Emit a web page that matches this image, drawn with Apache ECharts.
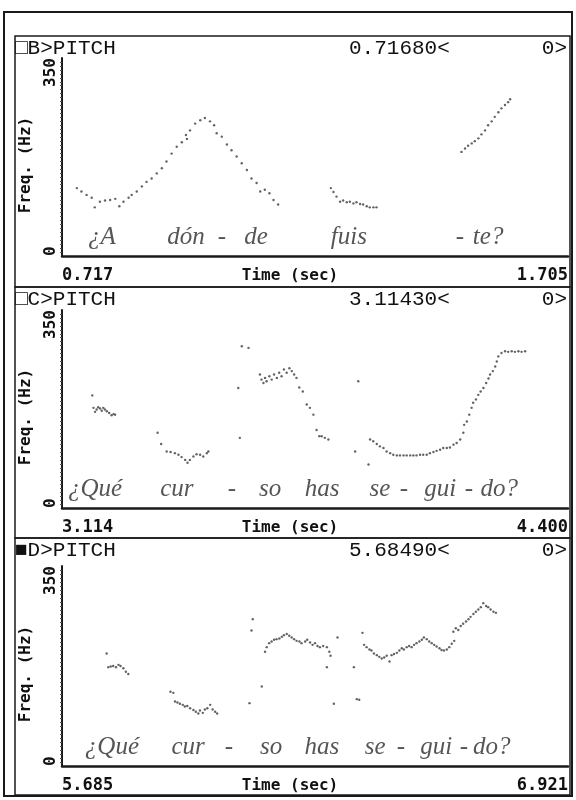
<!DOCTYPE html>
<html>
<head>
<meta charset="utf-8">
<script src="https://cdn.jsdelivr.net/npm/echarts@6/dist/echarts.min.js"></script>
<style>
  html, body { margin: 0; padding: 0; background: #fff; }
  #chart { width: 576px; height: 800px; }
</style>
</head>
<body>
<div id="chart"></div>
<script>
// Pitch tracks (time in s, F0 in Hz) for three utterances
const pitchB = [
  [0.746,120],[0.755,114],[0.765,108],[0.775,103],[0.781,86],[0.791,96],[0.801,98],[0.811,99],
  [0.821,101],[0.829,88],[0.837,96],[0.847,103],[0.853,108],[0.863,114],[0.873,123],[0.882,131],
  [0.892,137],[0.902,146],[0.912,155],[0.921,167],[0.931,181],[0.941,193],[0.951,201],[0.959,214],
  [0.961,207],[0.967,222],[0.977,234],[0.987,240],[0.996,244],[1.006,238],[1.014,231],[1.019,217],
  [1.029,211],[1.039,197],[1.048,187],[1.058,176],[1.068,164],[1.078,152],[1.087,137],[1.097,129],
  [1.104,114],[1.113,117],[1.122,111],[1.130,99],[1.139,91],
  [1.242,120],[1.247,113],[1.253,105],[1.260,96],[1.266,98],[1.273,95],[1.279,96],[1.286,93],
  [1.292,95],[1.299,92],[1.305,91],[1.312,88],[1.318,86],[1.325,86],[1.331,86],
  [1.497,184],[1.504,190],[1.510,195],[1.517,199],[1.523,203],[1.530,208],[1.536,215],[1.543,222],
  [1.549,231],[1.556,238],[1.562,246],[1.569,254],[1.575,261],[1.582,267],[1.588,272],[1.592,277]
];
const pitchC = [
  [3.191,199],[3.194,177],[3.198,170],[3.202,174],[3.206,178],[3.211,176],[3.215,172],[3.219,177],
  [3.223,174],[3.228,171],[3.234,168],[3.240,164],[3.245,166],[3.249,165],
  [3.357,133],[3.366,113],[3.380,100],[3.390,99],[3.401,97],[3.410,94],[3.418,90],[3.427,85],
  [3.433,80],[3.439,85],[3.448,91],[3.456,95],[3.465,94],[3.473,91],[3.482,97],[3.486,100],
  [3.571,286],[3.588,283],[3.562,212],[3.566,124],
  [3.617,236],[3.621,227],[3.626,221],[3.630,230],[3.634,224],[3.641,233],[3.647,227],[3.653,236],
  [3.660,230],[3.666,239],[3.672,233],[3.678,245],[3.685,239],[3.692,247],[3.698,242],[3.704,236],
  [3.710,230],[3.717,213],[3.726,206],[3.736,183],[3.744,177],[3.753,165],[3.761,138],[3.768,127],
  [3.774,127],[3.782,124],[3.791,121],
  [3.867,224],[3.859,100],[3.893,77],
  [3.897,121],[3.905,118],[3.914,113],[3.922,109],[3.931,106],[3.939,100],[3.948,97],[3.956,94],
  [3.965,93],[3.973,93],[3.982,93],[3.990,93],[3.999,93],[4.007,93],[4.015,93],[4.024,94],
  [4.032,94],[4.041,94],[4.049,97],[4.058,99],[4.066,101],[4.075,103],[4.083,106],[4.092,106],
  [4.100,107],[4.109,112],[4.117,115],
  [4.126,121],[4.134,133],[4.136,147],[4.143,153],[4.149,165],[4.155,177],[4.159,186],[4.166,192],
  [4.172,200],[4.178,206],[4.185,212],[4.192,221],[4.198,229],[4.202,236],[4.209,242],[4.215,250],
  [4.219,259],[4.223,268],[4.231,274],[4.240,277],[4.248,276],[4.257,277],[4.265,276],[4.274,277],
  [4.282,276],[4.291,277]
];
const pitchD = [
  [5.794,197],[5.798,173],[5.804,174],[5.810,175],[5.817,173],[5.823,177],[5.828,175],[5.835,171],
  [5.841,165],[5.847,161],
  [5.950,130],[5.957,128],[5.961,113],[5.967,111],[5.973,109],[5.980,107],[5.985,104],[5.991,105],
  [5.998,101],[6.006,98],[6.012,95],[6.018,92],[6.022,97],[6.029,93],[6.034,99],[6.040,101],
  [6.047,107],[6.053,99],[6.059,95],[6.064,92],
  [6.151,257],[6.148,237],[6.173,139],[6.143,110],
  [6.181,200],[6.185,208],[6.191,215],[6.197,218],[6.203,221],[6.209,222],[6.216,223],[6.222,226],
  [6.227,229],[6.234,231],[6.240,228],[6.246,225],[6.252,222],[6.258,219],[6.265,218],[6.270,215],
  [6.279,218],[6.284,221],[6.291,216],[6.297,212],[6.303,215],[6.309,210],[6.315,208],[6.323,210],
  [6.332,208],[6.338,200],[6.341,193],
  [6.358,225],[6.332,173],[6.349,109],[6.398,173],[6.405,117],[6.411,116],[6.419,233],
  [6.423,212],[6.429,208],[6.436,204],[6.441,202],[6.447,197],[6.454,194],[6.460,191],[6.466,188],
  [6.472,190],[6.478,193],[6.485,183],[6.490,194],[6.496,196],[6.503,198],[6.509,202],[6.515,206],
  [6.520,204],[6.527,208],[6.533,210],[6.539,208],[6.545,212],[6.551,215],[6.558,218],[6.564,221],
  [6.569,225],[6.576,222],[6.582,218],[6.588,215],[6.594,212],[6.600,209],[6.607,206],[6.612,203],
  [6.618,202],[6.625,204],[6.631,208],[6.637,214],[6.643,219],
  [6.641,235],[6.647,241],[6.653,238],[6.659,245],[6.665,249],[6.672,253],[6.678,257],[6.683,261],
  [6.690,266],[6.696,270],[6.702,274],[6.708,278],[6.714,285],[6.721,280],[6.726,278],[6.732,274],
  [6.739,270],[6.745,268]
];

// Time windows, cursor readouts and panel letters
const panelLetters = ['B', 'C', 'D'];
const timeMin = [0.717, 3.114, 5.685];
const timeMax = [1.705, 4.400, 6.921];
const cursorTimes = ['0.71680', '3.11430', '5.68490'];
const freqTicks = [0, 350];

// Syllable transcriptions and the times they are centred on
const syllablesB = ['¿A', 'dón', '-', 'de', 'fuis', '-', 'te?'];
const syllableTimesB = [0.795, 0.959, 1.029, 1.096, 1.277, 1.494, 1.549];
const syllablesC = ['¿Qué', 'cur', '-', 'so', 'has', 'se', '-', 'gui', '-', 'do?'];
const syllableTimesC = [3.198, 3.406, 3.546, 3.643, 3.775, 3.922, 3.983, 4.075, 4.148, 4.225];
const syllablesD = ['¿Qué', 'cur', '-', 'so', 'has', 'se', '-', 'gui', '-', 'do?'];
const syllableTimesD = [5.807, 5.993, 6.093, 6.196, 6.320, 6.450, 6.513, 6.599, 6.667, 6.735];
const syllableFreq = 32;

const pitchSets = [pitchB, pitchC, pitchD];
const syllableSets = [
  [syllablesB, syllableTimesB],
  [syllablesC, syllableTimesC],
  [syllablesD, syllableTimesD]
];

const gridTops = [58, 310, 566];
const gridHeights = [198, 198, 200];
const panelTops = [36, 287, 538];
const panelBottoms = [287, 538, 795];

const monoBold = { fontFamily: 'DejaVu Sans Mono', fontWeight: 'bold', color: '#111' };
const titleFont = { fontFamily: 'Liberation Mono', fontSize: 21, fontWeight: 'normal', color: '#111' };
const ink = '#1a1a1a';

const grids = [], xAxes = [], yAxes = [], series = [], titles = [], graphics = [];

// Outer frame
graphics.push({
  type: 'rect', shape: { x: 4, y: 12, width: 568, height: 784 },
  style: { fill: 'none', stroke: ink, lineWidth: 2 }, z: 10
});

for (let i = 0; i < 3; i++) {
  grids.push({ left: 62, top: gridTops[i], width: 506, height: gridHeights[i] });

  graphics.push({
    type: 'rect',
    shape: { x: 15, y: panelTops[i], width: 555, height: panelBottoms[i] - panelTops[i] },
    style: { fill: 'none', stroke: ink, lineWidth: 1.5 }, z: 10
  });

  const span = +(timeMax[i] - timeMin[i]).toFixed(3);
  xAxes.push({
    gridIndex: i, type: 'value', min: timeMin[i], max: timeMax[i], interval: span,
    name: 'Time (sec)', nameLocation: 'middle', nameGap: 12, nameMoveOverlap: false,
    nameTextStyle: Object.assign({ fontSize: 16, padding: [0, 50, 0, 0] }, monoBold),
    axisLine: { show: true, onZero: false, lineStyle: { color: ink, width: 2.5 } },
    axisTick: { show: false },
    splitLine: { show: false },
    axisLabel: Object.assign({
      fontSize: 17, margin: 11, showMinLabel: true, showMaxLabel: true,
      alignMinLabel: 'left', alignMaxLabel: 'right',
      formatter: v => v.toFixed(3)
    }, monoBold)
  });

  yAxes.push({
    gridIndex: i, type: 'value', min: freqTicks[0], max: freqTicks[1],
    interval: freqTicks[1] - freqTicks[0],
    name: 'Freq. (Hz)', nameLocation: 'middle', nameGap: 28, nameRotate: 90, nameMoveOverlap: false,
    nameTextStyle: Object.assign({ fontSize: 16, padding: [0, 16, 0, 0] }, monoBold),
    axisLine: { show: true, lineStyle: { color: ink, width: 2 } },
    axisTick: { show: false },
    minorTick: { show: true, splitNumber: 50, length: 2, lineStyle: { color: '#555', width: 1 } },
    splitLine: { show: false },
    axisLabel: Object.assign({
      fontSize: 16, rotate: 90, margin: 3,
      alignMinLabel: 'left', alignMaxLabel: 'right',
      verticalAlignMinLabel: 'bottom', verticalAlignMaxLabel: 'bottom'
    }, monoBold)
  });

  series.push({
    type: 'scatter', xAxisIndex: i, yAxisIndex: i,
    symbol: 'circle', symbolSize: 2.4,
    itemStyle: { color: '#3c3c3c' },
    data: pitchSets[i], silent: true
  });

  const [words, times] = syllableSets[i];
  series.push({
    type: 'scatter', xAxisIndex: i, yAxisIndex: i,
    symbolSize: 0, silent: true,
    data: words.map((w, k) => ({ value: [times[k], syllableFreq], name: w })),
    label: {
      show: true, position: 'inside', formatter: p => p.name,
      fontFamily: 'Liberation Serif', fontStyle: 'italic', fontSize: 25, color: '#2a2a2a'
    }
  });

  const mark = i === 2 ? '■' : '□';
  titles.push({ text: mark + panelLetters[i] + '>PITCH', left: 15, top: panelTops[i] + 2, textStyle: titleFont });
  titles.push({ text: cursorTimes[i] + '<', left: 349, top: panelTops[i] + 2, textStyle: titleFont });
  titles.push({ text: '0>', right: 9, top: panelTops[i] + 2, textStyle: titleFont });
}

const chart = echarts.init(document.getElementById('chart'), null, { renderer: 'canvas' });
chart.setOption({
  backgroundColor: '#fff',
  animation: false,
  title: titles.map(t => Object.assign({ padding: 0 }, t)),
  grid: grids,
  xAxis: xAxes,
  yAxis: yAxes,
  series: series,
  graphic: graphics
});
</script>
</body>
</html>
